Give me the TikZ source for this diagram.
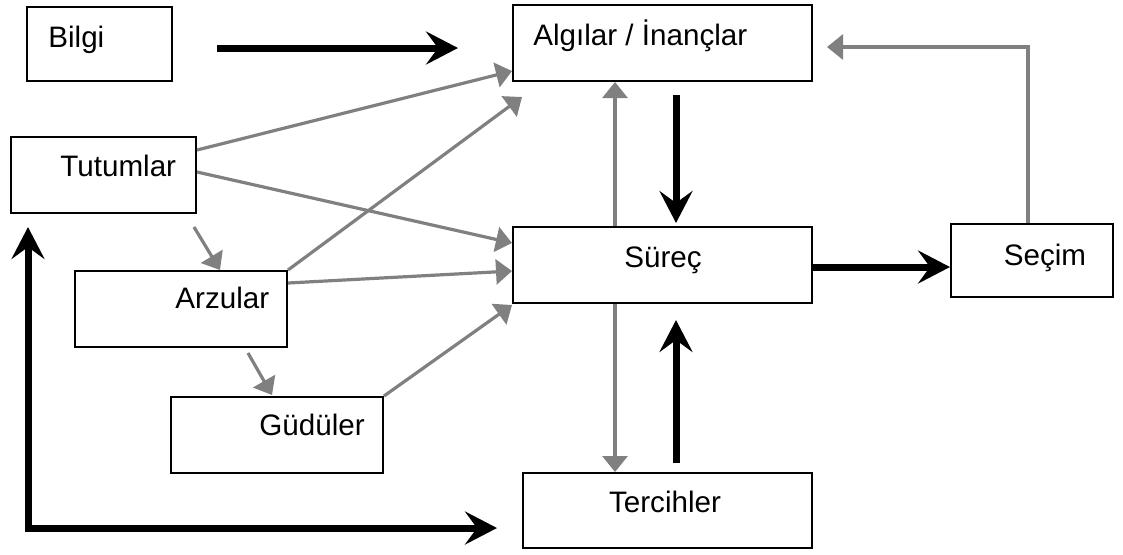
\documentclass[tikz,border=0pt]{standalone}
\usepackage{fontspec}
\setmainfont{Liberation Sans}
\usetikzlibrary{arrows.meta}
\definecolor{linkgray}{RGB}{128,128,128}
\tikzset{
  box/.style={draw, line width=1pt, inner sep=0pt, fill=white},
  lbl/.style={inner sep=0pt, anchor=base west, font=\fontsize{14.8}{17}\selectfont},
  garr/.style={draw=linkgray, line width=1.6pt, -{Triangle[length=8pt,width=12.5pt]}},
  barr/.style={line width=3.5pt, -{Stealth[length=16pt,width=16.5pt,inset=6pt]}},
  bboth/.style={line width=3.5pt, {Stealth[length=16pt,width=16.5pt,inset=6pt]}-{Stealth[length=16pt,width=16.5pt,inset=6pt]}}
}
\begin{document}
\begin{tikzpicture}[x=0.5pt,y=-0.5pt]
\useasboundingbox (0,0) rectangle (1123,554);

% boxes
\node[box, minimum width=72.5pt, minimum height=37pt] (bilgi) at (99.5,44) {};
\node[box, minimum width=92.5pt, minimum height=38pt] (tutum) at (103.5,175) {};
\node[box, minimum width=106pt, minimum height=38pt] (arzu) at (181,309) {};
\node[box, minimum width=106pt, minimum height=38pt] (gudu) at (277,435) {};
\node[box, minimum width=149.5pt, minimum height=38pt] (algi) at (662.5,43) {};
\node[box, minimum width=149.5pt, minimum height=38pt] (surec) at (662.5,265) {};
\node[box, minimum width=81pt, minimum height=36.5pt] (secim) at (1032,260.5) {};
\node[box, minimum width=144.5pt, minimum height=37.5pt] (terc) at (667.5,510.5) {};

% labels
\node[lbl] (bilgi-t) at (48,47) {Bilgi};
\node[lbl] (tutum-t) at (60,176) {Tutumlar};
\node[lbl] (arzu-t) at (175,308) {Arzular};
\node[lbl] (gudu-t) at (259,435) {Güdüler};
\node[lbl] (algi-t) at (533,45) {Algılar / İnançlar};
\node[lbl, anchor=base] (surec-t) at (663,267) {Süreç};
\node[lbl, anchor=base] (secim-t) at (1045,265) {Seçim};
\node[lbl, anchor=base] (terc-t) at (665,512) {Tercihler};

% free ends of the floating arrows
\coordinate (bilgiOut) at (217,48);
\coordinate (algiIn) at (458,48);
\coordinate (tutArzOut) at (194,227);
\coordinate (tutArzIn) at (220,270);
\coordinate (arzGudOut) at (248,353);
\coordinate (arzGudIn) at (272,395);
\coordinate (arzAlgIn) at (522,97);
\coordinate (algSurOut) at (676,95);
\coordinate (algSurIn) at (676,223);
\coordinate (terSurOut) at (676,463);
\coordinate (terSurIn) at (676,320);
\coordinate (secBend) at (1028,47);
\coordinate (secAlgIn) at (827,47);
\coordinate (loopTop) at (28,227);
\coordinate (loopCorner) at (28,528);
\coordinate (loopEnd) at (497,528);

% grey links
\draw[garr] (tutum.east |- 0,150) -- (algi.west |- 0,71);
\draw[garr] (tutum.east |- 0,172) -- (surec.west |- 0,243);
\draw[garr] (arzu.north east) -- (arzAlgIn);
\draw[garr] (arzu.east |- 0,283) -- (surec.west |- 0,271);
\draw[garr] (gudu.north east) -- (surec.west |- 0,305);
\draw[garr] (tutArzOut) -- (tutArzIn);
\draw[garr] (arzGudOut) -- (arzGudIn);
\draw[garr] (surec.north -| 615,0) -- (algi.south -| 615,0);
\draw[garr] (surec.south -| 615,0) -- (terc.north -| 615,0);
\draw[garr] (secim.north -| secBend) -- (secBend) -- (secAlgIn);

% black links
\draw[barr] (bilgiOut) -- (algiIn);
\draw[barr] (algSurOut) -- (algSurIn);
\draw[barr] (terSurOut) -- (terSurIn);
\draw[barr] (surec.east |- 0,267) -- (secim.west |- 0,267);
\draw[bboth] (loopTop) -- (loopCorner) -- (loopEnd);
\end{tikzpicture}
\end{document}
